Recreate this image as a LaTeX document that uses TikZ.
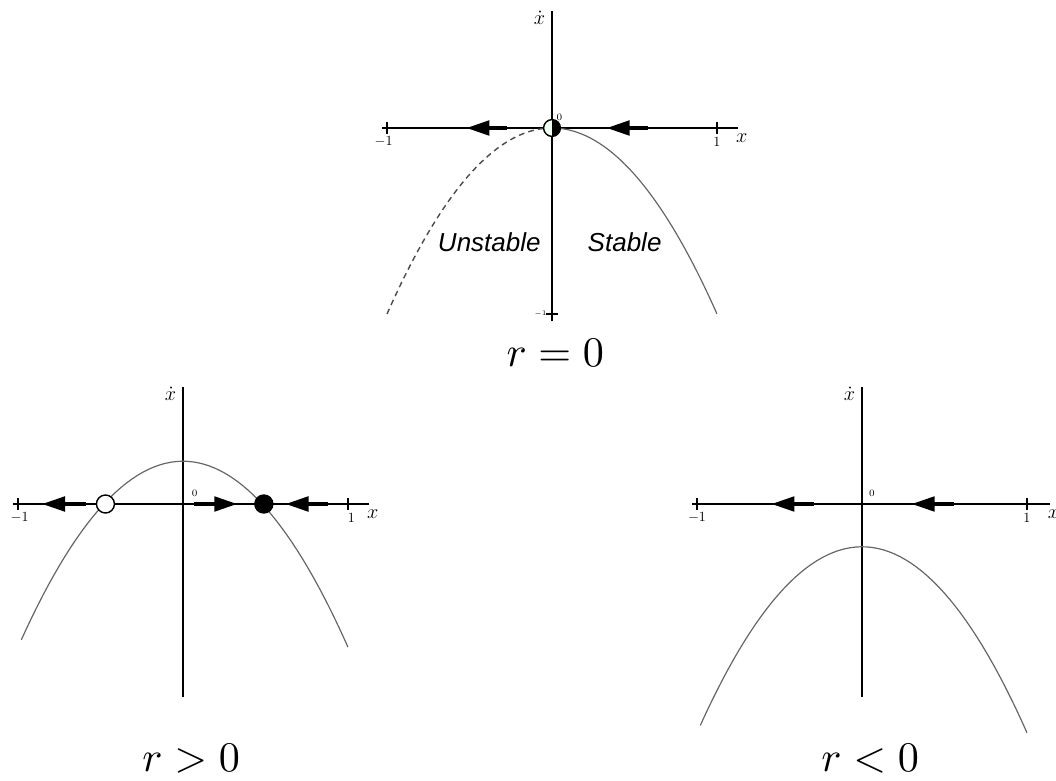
\documentclass[tikz,border=0pt]{standalone}
\usepackage{fontspec}
\usepackage{amsmath}
\usetikzlibrary{arrows.meta}
\newfontfamily\labelfont{Liberation Sans}
\tikzset{
  axis/.style={line width=1.3pt},
  curve/.style={line width=0.85pt, black!60},
  flow/.style={line width=2.8pt, -{Triangle[length=0.58cm,width=0.36cm]}},
  ticklbl/.style={font=\normalsize, inner sep=0pt},
  dotlbl/.style={font=\Large, anchor=east, inner sep=0pt},
  xlabel/.style={font=\Large, inner sep=0pt},
  caption/.style={scale=3, inner sep=0pt},
  fixpt/.style={circle, draw, line width=1pt, inner sep=0pt, minimum size=0.45cm}
}

\begin{document}
\begin{tikzpicture}
    \useasboundingbox (0,0) rectangle (26.4,19.5);

    % r = 0
    \begin{scope}[shift={(13.8,16.3)}, x=4.125cm, y=4.65cm]
        % Axes
        \draw[axis] (-1.03,0) -- (1.13,0);
        \draw[axis] (0,-1.04) -- (0,0.63);
        \draw[axis] (-1,0) ++(0,-4pt) -- ++(0,8pt);
        \draw[axis] (1,0) ++(0,-4pt) -- ++(0,8pt);
        \draw[axis] (0,-1) ++(-4pt,0) -- ++(8pt,0);
        \node[ticklbl] (tm) at (-1.02,-0.075) {$-1$};
        \node[ticklbl] (tp) at (1,-0.075) {$1$};
        \node[font=\tiny, anchor=east, inner sep=0pt] (ty) at (-0.03,-1) {$-1$};
        \node[font=\scriptsize, inner sep=0pt] (zero) at (0.045,0.06) {$0$};
        \node[dotlbl] (xdot) at (-0.04,0.59) {$\dot{x}$};
        \node[xlabel] (xlbl) at (1.15,-0.055) {$x$};

        % Curve
        \draw[curve, line width=1pt, black!70, dash pattern=on 4pt off 3pt, domain=-1:0, samples=60] plot (\x, {-(\x)*(\x)});
        \draw[curve, domain=0:1, samples=60] plot (\x, {-(\x)*(\x)});

        % Flow
        \draw[flow] (-0.27,0) -- (-0.52,0);
        \draw[flow] (0.58,0) -- (0.33,0);

        % Half-stable point
        \fill[green!6] (0,0) ++(90:0.21cm) arc[start angle=90, end angle=270, radius=0.21cm] -- cycle;
        \fill[black] (0,0) ++(-90:0.21cm) arc[start angle=-90, end angle=90, radius=0.21cm] -- cycle;
        \draw[line width=1pt] (0,0) circle (0.21cm);

        % Labels
        \node[font=\labelfont\itshape\fontsize{18.5}{20}\selectfont] (unst) at (-0.38,-0.613) {Unstable};
        \node[font=\labelfont\itshape\fontsize{18.5}{20}\selectfont] (st) at (0.44,-0.613) {Stable};
        \node[caption] (rzero) at (0.02,-1.21) {$r=0$};
    \end{scope}

    % r > 0
    \begin{scope}[shift={(4.575,6.9)}, x=4.125cm, y=4.65cm]
        % Axes
        \draw[axis] (-1.03,0) -- (1.13,0);
        \draw[axis] (0,-1.04) -- (0,0.63);
        \draw[axis] (-1,0) ++(0,-4pt) -- ++(0,8pt);
        \draw[axis] (1,0) ++(0,-4pt) -- ++(0,8pt);
        \node[ticklbl] (tm) at (-0.99,-0.075) {$-1$};
        \node[ticklbl] (tp) at (1.02,-0.075) {$1$};
        \node[font=\scriptsize, inner sep=0pt] (zero) at (0.07,0.06) {$0$};
        \node[dotlbl] (xdot) at (-0.04,0.59) {$\dot{x}$};
        \node[xlabel] (xlbl) at (1.15,-0.055) {$x$};

        % Curve
        \draw[curve, domain=-0.98:1, samples=60] plot (\x, {0.23-(\x)*(\x)});

        % Flow
        \draw[flow] (-0.59,0) -- (-0.855,0);
        \draw[flow] (0.067,0) -- (0.33,0);
        \draw[flow] (0.88,0) -- (0.62,0);

        % Fixed points
        \node[fixpt, fill=white] (unstpt) at (-0.47,0) {};
        \node[fixpt, fill=black] (stpt) at (0.49,0) {};

        \node[caption] (rpos) at (0.05,-1.37) {$r>0$};
    \end{scope}

    % r < 0
    \begin{scope}[shift={(21.55,6.9)}, x=4.125cm, y=4.65cm]
        % Axes
        \draw[axis] (-1.03,0) -- (1.14,0);
        \draw[axis] (0,-1.04) -- (0,0.63);
        \draw[axis] (-1,0) ++(0,-4pt) -- ++(0,8pt);
        \draw[axis] (1,0) ++(0,-4pt) -- ++(0,8pt);
        \node[ticklbl] (tm) at (-1.0,-0.075) {$-1$};
        \node[ticklbl] (tp) at (1.0,-0.075) {$1$};
        \node[font=\scriptsize, inner sep=0pt] (zero) at (0.06,0.06) {$0$};
        \node[dotlbl] (xdot) at (-0.04,0.59) {$\dot{x}$};
        \node[xlabel] (xlbl) at (1.16,-0.055) {$x$};

        % Curve
        \draw[curve, domain=-0.98:1, samples=60] plot (\x, {-0.23-(\x)*(\x)});

        % Flow
        \draw[flow] (-0.29,0) -- (-0.55,0);
        \draw[flow] (0.56,0) -- (0.30,0);

        \node[caption] (rneg) at (0.05,-1.37) {$r<0$};
    \end{scope}
\end{tikzpicture}
\end{document}
